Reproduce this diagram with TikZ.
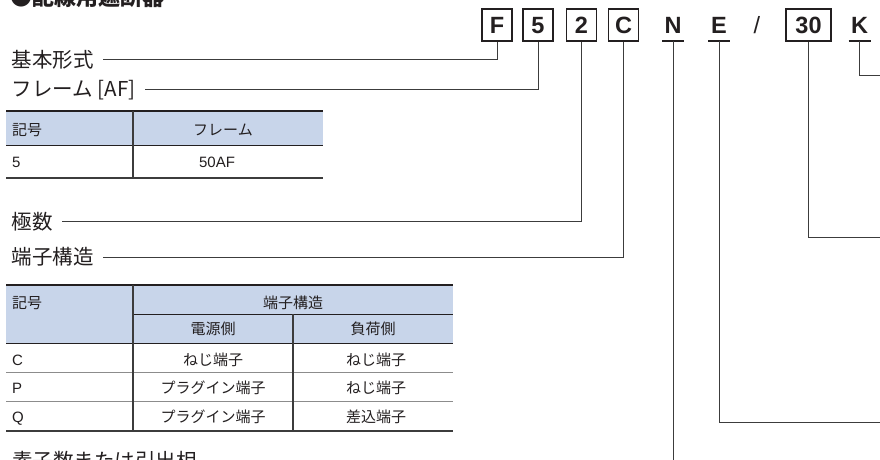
\documentclass[tikz,border=0pt]{standalone}
\usepackage{fontspec}
\setmainfont{Liberation Sans}
\newfontfamily\jp{Noto Sans CJK JP}
\definecolor{hdr}{RGB}{200,213,234}
\definecolor{ln}{RGB}{60,60,60}
\definecolor{txt}{RGB}{35,31,32}
\definecolor{rowln}{RGB}{140,140,140}
\begin{document}
\begin{tikzpicture}[x=1pt,y=-1pt,
  codefont/.style={font=\bfseries\fontsize{23.5}{26}\selectfont,text height=16.8pt,text depth=0pt,text=txt},
  codebox/.style={codefont,draw=txt,line width=1.7pt,minimum height=32pt,minimum width=30pt,inner sep=0pt},
  codeul/.style={codefont,minimum height=32pt,minimum width=22pt,inner sep=0pt,outer sep=0pt},
  ulline/.style={draw=txt,line width=1.6pt},
  lab/.style={anchor=west,inner xsep=0pt,inner ysep=0pt,outer xsep=9pt,outer ysep=0pt,
    font=\jp\fontsize{20.5}{24}\selectfont,text=txt,text height=18pt,text depth=2.5pt},
  conn/.style={draw=ln,line width=1pt},
  cell/.style={anchor=base,inner sep=0pt,font=\fontsize{15}{18}\selectfont,text=txt},
  cellw/.style={cell,anchor=base west},
  thickrule/.style={draw=txt,line width=2.3pt},
  btmrule/.style={draw=ln,line width=2pt},
  thinrule/.style={draw=txt,line width=1pt},
  grayrule/.style={draw=rowln,line width=1pt},
  vrule/.style={draw=ln,line width=1.2pt},
]
\fill[white] (0,0) rectangle (880,460);
\useasboundingbox (0,0) rectangle (880,460);

% title (cut at top, as in the reference)
\node[anchor=base west,inner sep=0pt,font=\jp\bfseries\fontsize{22}{26}\selectfont,text=txt] (title) at (10,5.5) {●配線用遮断器};

% code
\node[codebox] (F) at (497,25) {F};
\node[codebox] (c5) at (538,25) {5};
\node[codebox] (c2) at (581.5,25) {2};
\node[codebox] (cC) at (623.5,25) {C};
\node[codeul] (N) at (673,25) {N};
\node[codeul] (E) at (719,25) {E};
\node[inner sep=0pt,font=\fontsize{23.5}{26}\selectfont,text height=16.8pt,text depth=0pt,text=txt] (sl) at (757,25) {/};
\node[codebox,minimum width=45pt] (c30) at (808.5,25) {30};
\node[codeul] (K) at (859.5,25) {K};
\draw[ulline] (N.south west) -- (N.south east);
\draw[ulline] (E.south west) -- (E.south east);
\draw[ulline] (K.south west) -- (K.south east);

% labels
\node[lab] (l1) at (3,60) {基本形式};
\node[lab] (l2) at (3,89) {フレーム [AF]};
\node[lab] (l3) at (3,221.5) {極数};
\node[lab] (l4) at (3,257) {端子構造};
\node[anchor=base west,inner sep=0pt,font=\jp\fontsize{20.5}{24}\selectfont,text=txt] (l5) at (12,468.5) {素子数または引出相};

% connector ends off the page
\coordinate (bot) at (0,470);
\coordinate (eend) at (885,422);
\coordinate (tend) at (885,237);
\coordinate (kend) at (885,75);

\draw[conn] (F.south) |- (l1.east);
\draw[conn] (c5.south) |- (l2.east);
\draw[conn] (c2.south) |- (l3.east);
\draw[conn] (cC.south) |- (l4.east);
\draw[conn] (N.south) -- (N.south |- bot);
\draw[conn] (E.south) |- (eend);
\draw[conn] (c30.south) |- (tend);
\draw[conn] (K.south) |- (kend);

% table 1
\fill[hdr] (6,111) rectangle (323,145);
\draw[thinrule] (6,145) -- (323,145);
\draw[thickrule] (6,111) -- (323,111);
\draw[btmrule] (6,178) -- (323,178);
\draw[vrule] (133,111) -- (133,178);
\node[cellw] (t1a) at (12,135.2) {\jp 記号};
\node[cell] (t1b) at (223,135.2) {\jp フレーム};
\node[cellw] (t1c) at (12,167) {5};
\node[cell] (t1d) at (217,167) {50AF};

% table 2
\fill[hdr] (6,285) rectangle (453,343);
\draw[thinrule] (133,314) -- (453,314);
\draw[thinrule] (6,343) -- (453,343);
\draw[grayrule] (6,372) -- (453,372);
\draw[grayrule] (6,401) -- (453,401);
\draw[thickrule] (6,285) -- (453,285);
\draw[btmrule] (6,431) -- (453,431);
\draw[vrule] (133,285) -- (133,431);
\draw[vrule] (293,314) -- (293,431);
\node[cellw] (t2a) at (12,308) {\jp 記号};
\node[cell] (t2b) at (293,308) {\jp 端子構造};
\node[cell] (t2c) at (213,334.5) {\jp 電源側};
\node[cell] (t2d) at (373,334.5) {\jp 負荷側};
\node[cellw] (r1a) at (12,365.5) {C};
\node[cell] (r1b) at (213,365.5) {\jp ねじ端子};
\node[cell] (r1c) at (376,365.5) {\jp ねじ端子};
\node[cellw] (r2a) at (12,393.5) {P};
\node[cell] (r2b) at (213,393.5) {\jp プラグイン端子};
\node[cell] (r2c) at (376,393.5) {\jp ねじ端子};
\node[cellw] (r3a) at (12,422) {Q};
\node[cell] (r3b) at (213,422) {\jp プラグイン端子};
\node[cell] (r3c) at (376,422) {\jp 差込端子};
\end{tikzpicture}
\end{document}
